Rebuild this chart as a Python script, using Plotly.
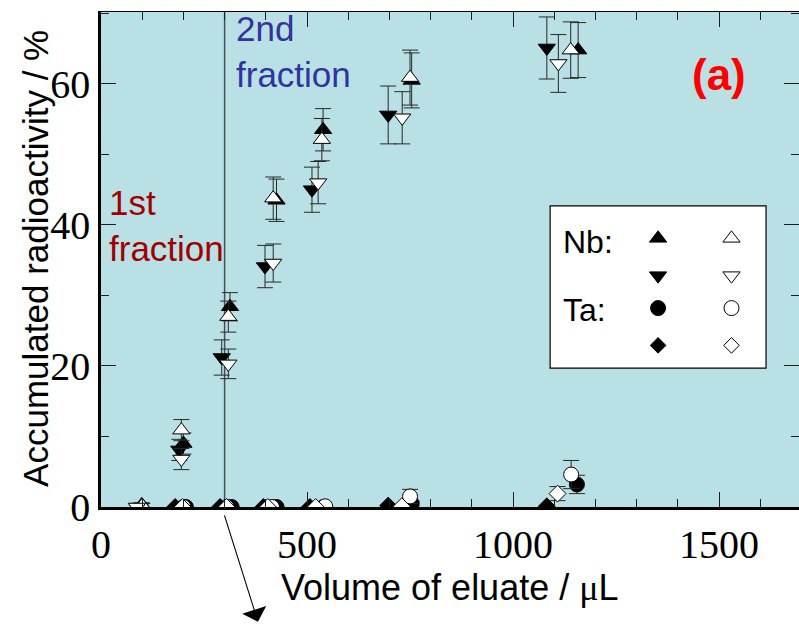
import plotly.graph_objects as go

# ---------------- data ----------------
# Nb (filled triangle-up, open triangle-up, filled triangle-down, open triangle-down)
nb_fu_x = [99, 200, 313, 426, 539, 754, 1158]
nb_fu_y = [0.3, 9.0, 28.4, 43.5, 53.5, 60.5, 64.8]
nb_fu_e = [0.3, 1.5, 2.0, 3.0, 3.0, 3.9, 3.9]

nb_ou_x = [100, 195, 309, 418, 536, 750, 1140]
nb_ou_y = [0.2, 10.9, 27.0, 43.8, 52.1, 60.9, 64.8]
nb_ou_e = [0.3, 1.5, 2.2, 3.0, 3.0, 3.9, 4.0]

nb_fd_x = [95, 190, 293, 398, 512, 697, 1082]
nb_fd_y = [0.0, 8.1, 21.2, 34.1, 45.0, 55.6, 65.1]
nb_fd_e = [0.2, 1.5, 2.5, 3.0, 3.2, 4.1, 4.4]

nb_od_x = [87, 195, 309, 418, 527, 731, 1110]
nb_od_y = [0.0, 6.8, 20.3, 34.6, 46.0, 55.2, 62.9]
nb_od_e = [0.2, 1.5, 2.1, 2.7, 3.0, 3.7, 4.1]

# Ta (filled circle, open circle, filled diamond, open diamond)
ta_fc_x = [206, 317, 426, 540, 754, 1155]
ta_fc_y = [0.0, 0.0, 0.0, 0.0, 0.5, 3.2]
ta_fc_e = [0.0, 0.0, 0.0, 0.0, 0.3, 1.3]

ta_oc_x = [200, 305, 415, 544, 750, 1141]
ta_oc_y = [0.0, 0.0, 0.0, 0.1, 1.5, 4.6]
ta_oc_e = [0.0, 0.0, 0.0, 0.0, 1.0, 2.0]

ta_fdm_x = [180, 289, 394, 507, 697, 1082]
ta_fdm_y = [0.0, 0.0, 0.0, 0.0, 0.2, 0.1]
ta_fdm_e = [0.0, 0.0, 0.0, 0.0, 0.0, 0.0]

ta_odm_x = [198, 305, 405, 521, 730, 1108]
ta_odm_y = [0.0, 0.0, 0.0, 0.0, 0.1, 1.9]
ta_odm_e = [0.0, 0.0, 0.0, 0.0, 0.0, 1.0]

fraction_boundary = 300
x_ticks = [0, 500, 1000, 1500]
y_ticks = [0, 20, 40, 60]

# ---------------- style ----------------
BG = "rgb(185,224,228)"
ERR = "rgb(40,40,40)"
W, H = 799, 625
ML, MR, MT, MB = 101, 0, 12, 118
XR = [0, 1694]
YR = [0, 70.2]

# key box (data coordinates of the main axes) and relative positions inside it
KEY_X = [1090, 1614]
KEY_Y = [19.7, 42.7]
key_cols = [0.50, 0.84]
key_rows = [0.80, 0.57, 0.37, 0.14]


def kx(f):
    return KEY_X[0] + f * (KEY_X[1] - KEY_X[0])


def ky(f):
    return KEY_Y[0] + f * (KEY_Y[1] - KEY_Y[0])


def series(x, y, e, symbol, filled, size):
    return go.Scatter(
        x=x, y=y, mode="markers", showlegend=False,
        error_y=dict(type="data", array=e, visible=True, color=ERR,
                     thickness=1, width=8),
        marker=dict(symbol=symbol, size=size,
                    color="black" if filled else "white",
                    line=dict(color="black", width=1)),
    )


fig = go.Figure()
fig.add_trace(series(nb_fu_x, nb_fu_y, nb_fu_e, "triangle-up", True, 15))
fig.add_trace(series(nb_fd_x, nb_fd_y, nb_fd_e, "triangle-down", True, 15))
fig.add_trace(series(nb_ou_x, nb_ou_y, nb_ou_e, "triangle-up", False, 15))
fig.add_trace(series(nb_od_x, nb_od_y, nb_od_e, "triangle-down", False, 15))
fig.add_trace(series(ta_fc_x, ta_fc_y, ta_fc_e, "circle", True, 15))
fig.add_trace(series(ta_oc_x, ta_oc_y, ta_oc_e, "circle", False, 15))
fig.add_trace(series(ta_fdm_x, ta_fdm_y, ta_fdm_e, "diamond", True, 13))
fig.add_trace(series(ta_odm_x, ta_odm_y, ta_odm_e, "diamond", False, 13))

# key symbols
key_syms = [("triangle-up", 15), ("triangle-down", 15), ("circle", 15), ("diamond", 12)]
for r, (sym, sz) in zip(key_rows, key_syms):
    for c, filled in zip(key_cols, [True, False]):
        fig.add_trace(go.Scatter(
            x=[kx(c)], y=[ky(r)], mode="markers", showlegend=False, hoverinfo="skip",
            marker=dict(symbol=sym, size=sz, color="black" if filled else "white",
                        line=dict(color="black", width=1))))

# dummy trace so overlaying axes render
fig.add_trace(go.Scatter(x=[None], y=[None], xaxis="x2", yaxis="y2", showlegend=False))

serif = "Liberation Serif"
sans = "Liberation Sans, Arial"
TK = "rgb(30,30,30)"

axis_common = dict(ticks="inside", tickcolor=TK, tickwidth=1,
                   showgrid=False, zeroline=False)
xminor = dict(ticks="inside", dtick=100, ticklen=8, tickcolor=TK, tickwidth=1)
yminor = dict(ticks="inside", dtick=10, ticklen=8, tickcolor=TK, tickwidth=1)

fig.update_layout(
    width=W, height=H,
    margin=dict(l=ML, r=MR, t=MT, b=MB),
    paper_bgcolor="white", plot_bgcolor=BG,
    xaxis=dict(range=XR, tickvals=x_ticks, ticklen=15, minor=xminor,
               showline=True, linecolor="black", linewidth=2.5,
               tickfont=dict(family=serif, size=40, color="black"),
               **axis_common),
    yaxis=dict(range=YR, tickvals=y_ticks, ticklen=15, minor=yminor,
               showline=True, linecolor="black", linewidth=2.5,
               tickfont=dict(family=serif, size=40, color="black"),
               **axis_common),
    xaxis2=dict(range=XR, overlaying="x", side="top", tickvals=x_ticks, ticklen=15,
                minor=xminor, showline=True, linecolor="black", linewidth=1,
                showticklabels=False, **axis_common),
    yaxis2=dict(range=YR, overlaying="y", side="right", tickvals=y_ticks, ticklen=15,
                minor=yminor, showline=False, showticklabels=False, **axis_common),
)

# axis titles (as annotations for precise placement)
fig.add_annotation(xref="paper", yref="paper", x=0.5, y=-0.163,
                   text="Volume of eluate / <span style='font-family:Liberation Serif'>μ</span>L",
                   showarrow=False, xanchor="center", yanchor="middle",
                   font=dict(family=sans, size=36, color="black"))
fig.add_annotation(xref="paper", yref="paper", x=-0.094, y=0.502,
                   text="Accumulated radioactivity / %", textangle=-90,
                   showarrow=False, xanchor="center", yanchor="middle",
                   font=dict(family=sans, size=35, color="black"))

# fraction boundary line
fig.add_shape(type="line", xref="x", yref="paper", x0=fraction_boundary, x1=fraction_boundary,
              y0=0, y1=1, line=dict(color="rgb(70,80,90)", width=1.5), layer="below")
# key box
fig.add_shape(type="rect", xref="x", yref="y", x0=KEY_X[0], x1=KEY_X[1], y0=KEY_Y[0], y1=KEY_Y[1],
              line=dict(color="black", width=1.2), fillcolor="white", layer="below")

fig.add_annotation(xref="x", yref="y", x=kx(0.05), y=ky(0.78),
                   text="Nb:", showarrow=False, xanchor="left", yanchor="middle",
                   font=dict(family=sans, size=32, color="black"))
fig.add_annotation(xref="x", yref="y", x=kx(0.05), y=ky(0.36),
                   text="Ta:", showarrow=False, xanchor="left", yanchor="middle",
                   font=dict(family=sans, size=32, color="black"))

fig.add_annotation(x=14, y=46.3, xref="x", yref="y", text="1st<br>fraction", showarrow=False,
                   xanchor="left", yanchor="top", align="left",
                   font=dict(family=sans, size=35, color="rgb(160,0,0)"))
fig.add_annotation(x=323, y=1.01, xref="x", yref="paper", text="2nd<br>fraction", showarrow=False,
                   xanchor="left", yanchor="top", align="left",
                   font=dict(family=sans, size=35, color="rgb(50,50,160)"))
fig.add_annotation(x=1500, y=61.4, xref="x", yref="y", text="<b>(a)</b>", showarrow=False,
                   xanchor="center", yanchor="middle",
                   font=dict(family=sans, size=44, color="rgb(255,0,0)"))

# arrow below the axis
fig.add_annotation(x=381, y=-0.232, xref="x", yref="paper", text="", showarrow=True,
                   ax=-34, ay=-108, axref="pixel", ayref="pixel",
                   arrowhead=1, arrowsize=3.8, arrowwidth=1.1, arrowcolor="black")

fig.write_html("out.html")
